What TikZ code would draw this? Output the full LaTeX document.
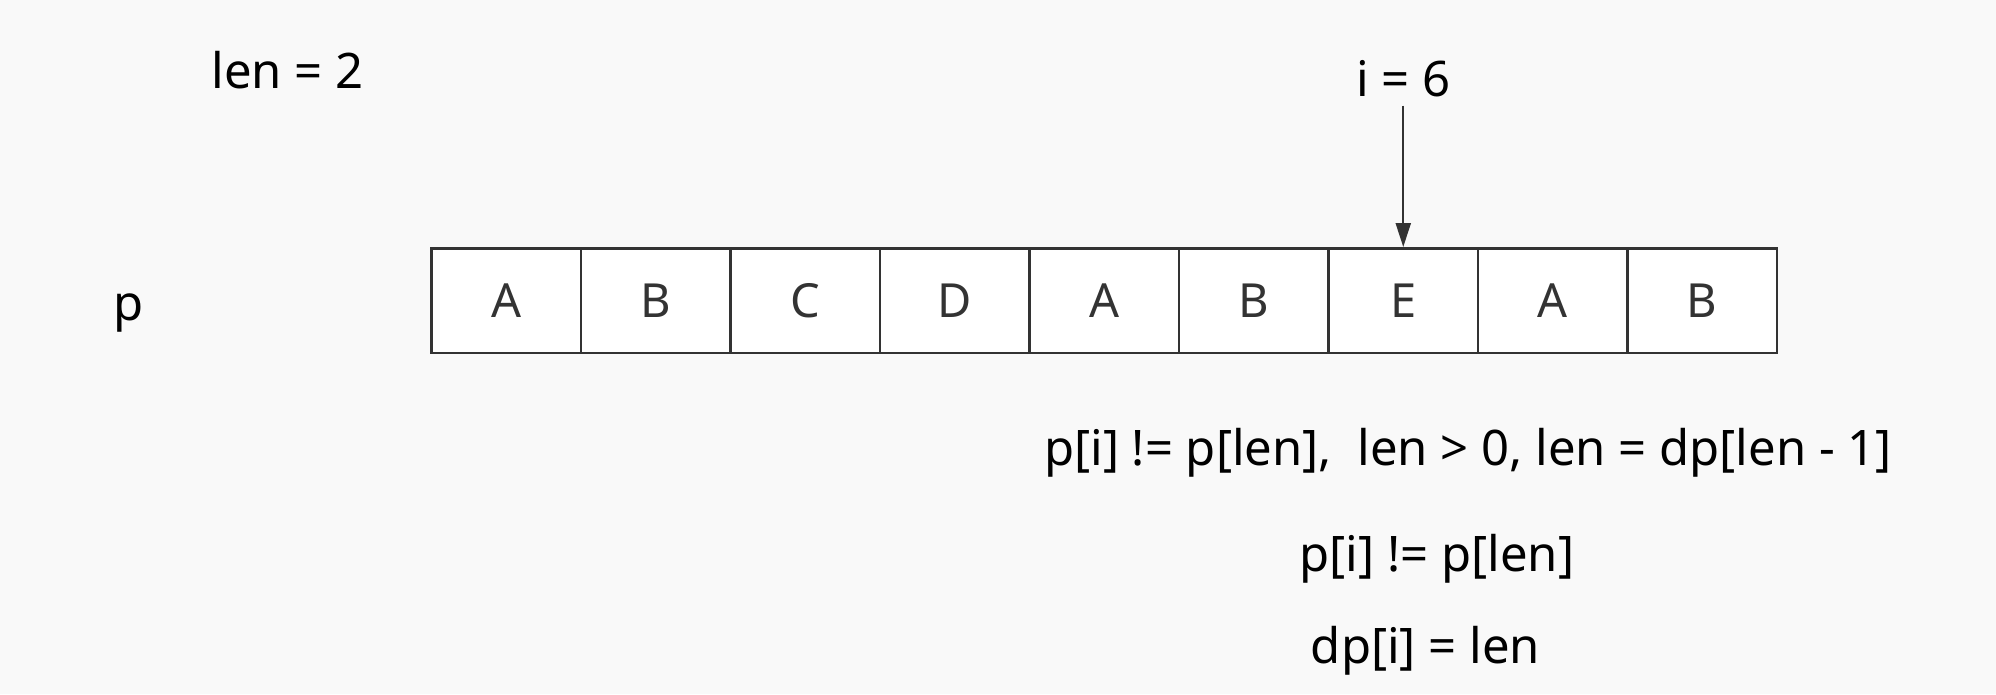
\documentclass[tikz,border=0pt]{standalone}
\usepackage{fontspec}
\setmainfont{Noto Sans}
\usetikzlibrary{arrows.meta}
\definecolor{bg}{HTML}{F9F9F9}
\definecolor{ink}{HTML}{333333}
\begin{document}
\begin{tikzpicture}[x=1pt,y=-1pt,
  cell/.style={draw=ink,fill=white,line width=2.5pt,minimum width=149.5pt,minimum height=104.5pt,inner sep=0pt,text=ink,font=\fontsize{47}{56}\selectfont},
  lbl/.style={inner sep=0pt,text=black,font=\fontsize{49}{58}\selectfont},
  arr/.style={draw=ink,line width=2.2pt,-{Triangle[length=24pt,width=15pt]}}]
\fill[bg] (0,0) rectangle (1996,694);
\useasboundingbox (0,0) rectangle (1996,694);
\foreach \t [count=\i from 0] in {A,B,C,D,A,B,E,A,B}{
  \node[cell] (c\i) at ({431.5+149.5*(\i+0.5)},300.5) {\t};
}
\node[lbl] (len) at (287.7,70) {len = 2};
\node[lbl] (p) at (129,313) {p};
\node[lbl] (iv) at (1403.25,79) {i = 6};
\coordinate (top) at (1403.25,105.6);
\draw[arr] (top) -- (c6.north);
\node[lbl] (l1) at (1468,453) {p[i] != p[len],\ \ len > 0, len = dp[len - 1]};
\node[lbl] (l2) at (1437,559) {p[i] != p[len]};
\node[lbl] (l3) at (1425.5,651) {dp[i] = len};
\end{tikzpicture}
\end{document}
